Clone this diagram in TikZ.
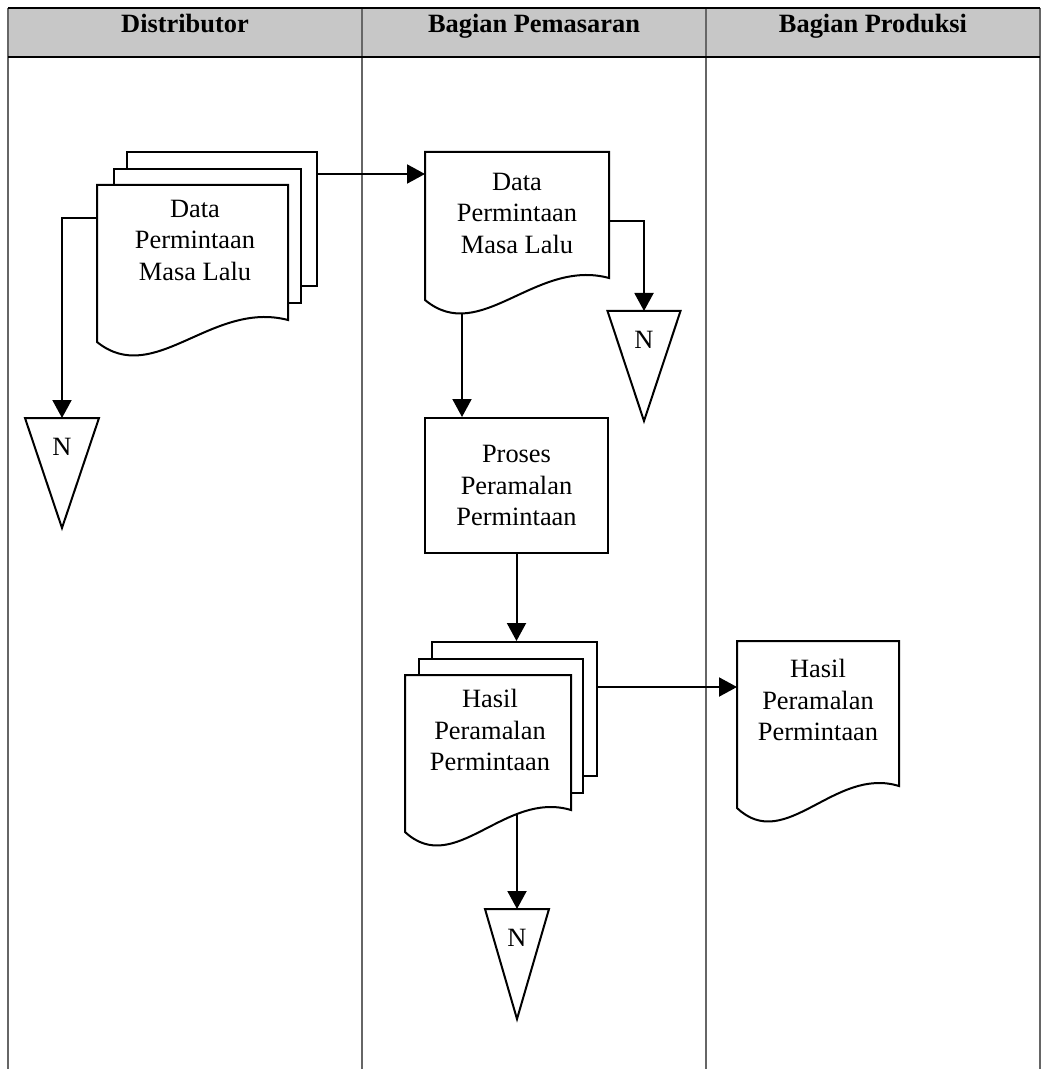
\documentclass[tikz,border=0pt]{standalone}
\usepackage{fontspec}
\setmainfont{Liberation Serif}
\usetikzlibrary{arrows.meta,calc,fit}

% document symbol with wavy bottom, drawn round a fitted node
\newcommand{\docshape}[1]{%
  \draw[fill=white] (#1.north west) -- (#1.north east) -- (#1.south east)
    .. controls ($(#1.south west)!0.6!(#1.south east)+(0,-20)$)
    and ($(#1.south west)!0.3!(#1.south east)+(0,68)$)
    .. ($(#1.south west)+(0,22)$) -- cycle;}

\begin{document}
\begin{tikzpicture}[x=0.5pt, y=-0.5pt, line width=1pt,
  >={Triangle[length=9pt,width=9.5pt]},
  lane/.style={black!60, line width=0.6pt},
  head/.style={font=\fontsize{13.2}{15.75}\selectfont\bfseries, anchor=base},
  txt/.style={align=center, font=\fontsize{13.2}{15.75}\selectfont, inner sep=0pt},
  docbox/.style={inner sep=0pt, draw=none},
  sheet/.style={docbox, draw, fill=white},
  proc/.style={draw, align=center, inner sep=0pt, font=\fontsize{13.2}{15.75}\selectfont}]
  \useasboundingbox (0,0) rectangle (1044,1069);
  % header
  \fill[black!22] (8,8) rectangle (1040,57);
  \foreach \x in {8,362,706,1040}
    \draw[lane] (\x,8) -- (\x,1069);
  \draw (8,8) -- (1040,8);
  \draw (8,57) -- (1040,57);
  \foreach \x/\t [count=\i] in {185/Distributor, 534/Bagian Pemasaran, 873/Bagian Produksi}
    \node[head] (lane\i) at (\x,33) {\t};

  % shapes
  \node[sheet, fit={(127,152) (317,286)}] (dist3) {};
  \node[sheet, fit={(114,169) (301,303)}] (dist2) {};
  \node[docbox, fit={(98,186) (287,319)}] (dist1) {};
  \node[docbox, fit={(426,153) (608,277)}] (dpm) {};
  \node[proc, minimum width=91.5pt, minimum height=67.5pt] (proses) at (516.5,485.5)
    {Proses\\Peramalan\\Permintaan};
  \node[sheet, fit={(432,642) (597,776)}] (hpp3) {};
  \node[sheet, fit={(419,659) (583,793)}] (hpp2) {};
  \node[docbox, fit={(406,676) (570,809)}] (hpp1) {};
  \node[docbox, fit={(738,642) (898,785)}] (hpd) {};

  % off-page connectors
  \foreach \n/\x/\y/\w in {n1/62/418/74, n2/644/311/73, n3/517/909/64}{
    \coordinate (\n) at (\x,\y);
    \draw (\n) ++(-\w/2,0) -- ++(\w,0) -- (\x,\y+110) -- cycle;
    \node[txt] (\n-label) at (\x,\y+29) {N};
  }

  % flows
  \draw[->] ([yshift=17pt]dist1.west) -| (n1);
  \draw[->] ([yshift=22.5pt]dist3.east) -- ([yshift=22.5pt]dist3.east -| dpm.west);
  \draw[->] ([yshift=-3pt]dpm.east) -| (n2);
  \draw[->] ([xshift=-27.5pt]dpm.center) -- ([xshift=-27.5pt]dpm.center |- proses.north);
  \draw[->] (proses.south) -- (proses.south |- hpp3.north);
  \draw[->] ([yshift=11pt]hpp3.east) -- ([yshift=11pt]hpp3.east -| hpd.west);
  \draw[->] (hpp1.center -| n3) -- (n3);

  % documents
  \docshape{dist1}
  \docshape{dpm}
  \docshape{hpp1}
  \docshape{hpd}
  \node[txt] (dist1-text) at (195,240) {Data\\Permintaan\\Masa Lalu};
  \node[txt] (dpm-text) at (517,213) {Data\\Permintaan\\Masa Lalu};
  \node[txt] (hpp1-text) at (490,730) {Hasil\\Peramalan\\Permintaan};
  \node[txt] (hpd-text) at (818,700) {Hasil\\Peramalan\\Permintaan};
\end{tikzpicture}
\end{document}
